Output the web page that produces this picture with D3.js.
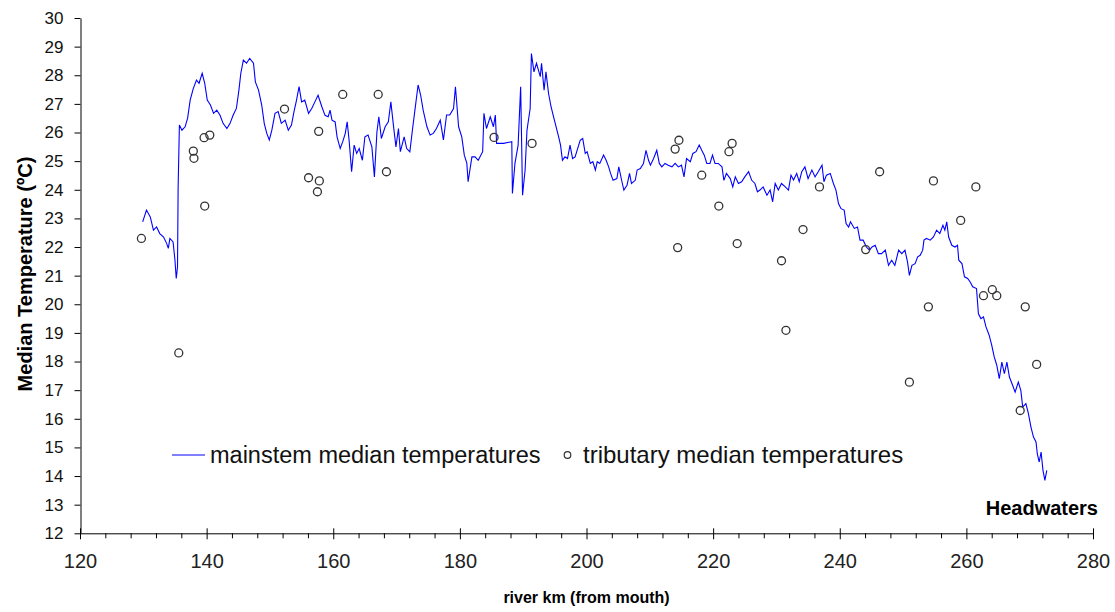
<!DOCTYPE html>
<html>
<head>
<meta charset="utf-8">
<script src="https://cdn.jsdelivr.net/npm/d3@7"></script>
<style>
  body { margin: 0; background: #fff; }
  svg { display: block; font-family: "Liberation Sans", Arial, sans-serif; }
</style>
</head>
<body>
<div id="wrapper"></div>
<script>
// mainstem median temperature, [river km, deg C]
const mainstem = [
  [129.9,22.88],[130.5,23.29],[131.1,23.05],[131.6,22.59],[132.1,22.70],[132.6,22.47],[133.2,22.35],[133.7,22.12],[133.95,21.95],[134.2,22.3],
  [134.7,22.18],[135.0,21.54],[135.2,20.9],[135.4,21.3],[135.5,24.1],[135.7,26.26],[136.1,26.08],[136.6,26.2],[137.0,26.5],[137.4,27.13],
  [137.9,27.54],[138.4,27.83],[138.8,27.72],[139.3,28.07],[139.7,27.72],[140.1,27.13],[140.6,26.96],[141.1,26.67],[141.6,26.78],[142.1,26.61],
  [142.6,26.32],[143.2,26.14],[143.7,26.32],[144.2,26.61],[144.7,26.84],[145.1,27.48],[145.4,28.07],[145.8,28.53],[146.3,28.42],[146.8,28.59],
  [147.4,28.42],[147.7,27.77],[148.2,27.48],[148.7,26.96],[149.1,26.32],[149.5,25.97],[149.9,25.74],[150.3,26.08],[150.8,26.67],[151.3,26.73],
  [151.8,26.32],[152.4,26.43],[152.9,26.08],[153.4,26.26],[153.8,26.73],[154.2,27.13],[154.6,27.6],[155.0,27.07],[155.5,27.13],[156.1,26.67],
  [156.6,26.84],[157.1,27.07],[157.6,27.3],[158.2,26.9],[158.7,26.6],[159.2,26.55],
  [159.5,26.78],[159.8,26.43],[160.3,26.37],[160.6,25.85],[161.1,25.44],[161.5,25.68],[161.9,25.97],[162.2,26.37],[162.5,25.74],[162.9,24.63],
  [163.3,25.56],[163.7,25.27],[164.1,25.44],[164.6,25.03],[165.0,25.85],[165.5,25.91],[166.1,25.5],[166.5,24.45],[166.9,26.02],[167.2,26.55],
  [167.6,25.79],[168.2,26.2],[168.7,26.37],[169.1,27.07],[169.5,26.26],[169.9,25.5],[170.3,26.14],[170.6,25.33],[171.2,25.85],[171.6,25.44],
  [172.1,25.33],[172.5,26.08],[172.9,26.78],[173.4,27.66],[173.8,27.31],[174.2,26.78],[174.8,26.2],[175.3,25.91],[175.8,25.97],[176.3,26.14],
  [176.9,26.43],[177.4,25.74],[177.9,26.61],[178.4,26.61],[179.0,26.84],[179.3,27.6],[179.8,26.2],[180.3,25.85],[180.7,25.21],[181.1,24.92],
  [181.3,24.28],[181.9,25.15],[182.4,25.15],[182.9,25.03],[183.6,25.33],[183.8,26.67],[184.2,26.14],[184.8,26.55],[185.3,26.2],[185.6,26.61],
  [185.8,25.62],[186.9,25.62],[188.2,25.68],[188.3,23.87],[188.7,24.92],[189.2,25.56],[189.6,27.6],[189.9,23.81],[190.3,24.69],[190.6,26.08],
  [191.1,26.84],[191.3,28.76],[191.7,28.12],[192.1,28.42],
  [192.7,27.95],[192.9,28.42],[193.3,27.48],[193.6,28.12],[194.0,27.37],[194.4,26.9],[194.8,26.55],[195.2,26.2],[195.6,25.85],[195.9,25.56],
  [196.2,25.03],[196.6,25.15],[197.0,25.09],[197.4,25.56],[197.8,25.09],[198.2,25.15],[198.6,25.44],[199.0,25.73],[199.4,25.79],[199.8,25.27],
  [200.1,25.33],[200.6,24.92],[201.0,24.98],[201.4,24.69],[201.7,24.98],[202.1,24.92],[202.7,25.21],[203.1,25.03],[203.5,24.8],[203.8,24.57],
  [204.2,24.33],[204.8,24.39],[205.1,24.8],[205.6,24.28],[205.9,23.99],[206.4,24.16],[206.8,24.57],[207.1,24.22],[207.7,24.33],[208.0,24.69],
  [208.5,24.74],[209.0,24.92],[209.4,25.38],[209.8,25.03],[210.1,24.86],[210.6,25.09],[211.1,25.38],[211.5,24.92],[211.9,24.8],[212.4,24.92],
  [212.9,24.86],[213.5,24.8],[214.0,24.92],[214.5,24.8],[215.0,24.86],[215.4,24.45],[215.8,25.09],[216.4,24.98],[216.8,25.27],[217.3,25.33],
  [217.8,25.56],[218.2,25.38],[218.6,25.21],[219.0,24.92],[219.5,24.92],[219.9,25.21],[220.3,24.92],[220.8,24.92],[221.4,24.8],[221.7,24.33],
  [222.1,24.57],[222.7,24.39],[223.1,24.1],[223.5,24.45],[224.0,24.22],[224.5,24.28],[225.0,24.45],[225.6,24.63],[226.1,24.33],[226.6,24.22],
  [227.0,23.93],
  [227.4,23.99],[227.9,24.1],[228.5,23.81],[229.0,23.99],[229.4,23.58],[229.8,24.22],[230.3,23.99],[230.8,24.22],[231.4,24.1],[231.9,23.99],
  [232.3,24.51],[232.7,24.34],[233.2,24.57],[233.6,24.28],[234.0,24.63],[234.5,24.8],[235.0,24.39],[235.6,24.69],[236.1,24.45],[236.6,24.63],
  [237.2,24.86],[237.5,24.28],[237.9,24.51],[238.5,24.57],[239.0,24.22],[239.4,23.99],[239.8,23.52],[240.2,23.34],[240.7,23.29],[241.0,22.82],
  [241.4,22.7],[241.7,22.88],[242.3,22.65],[242.8,22.7],[243.2,22.24],[243.7,22.24],[244.2,22.0],[244.7,21.89],[245.1,22.0],[245.6,22.06],
  [246.1,21.77],[246.6,21.77],[247.2,21.89],[247.7,21.36],[248.2,21.54],[248.7,21.36],[249.3,21.89],[249.8,21.77],[250.3,21.89],[250.7,21.48],
  [251.0,21.01],[251.4,21.36],[251.9,21.42],[252.3,21.66],[252.7,21.71],[253.1,21.89],[253.3,22.24],[253.7,22.3],[254.3,22.24],[254.8,22.35],
  [255.3,22.59],[255.8,22.47],[256.3,22.76],[256.6,22.59],[256.9,22.88],[257.2,22.35],[257.7,22.06],[258.2,22.0],[258.6,22.06],
  [258.8,21.54],[259.3,21.42],[259.7,20.96],[260.2,20.9],[260.6,20.78],[261.0,20.61],[261.6,20.55],[261.9,19.67],[262.3,19.5],[262.7,19.56],
  [263.1,19.21],[263.6,18.92],[264.0,18.57],[264.4,18.16],[264.8,17.87],[265.2,17.4],[265.6,17.98],[266.0,17.58],[266.4,17.98],[266.8,17.46],
  [267.3,17.17],[267.7,16.93],[268.2,17.28],[268.6,16.99],[268.9,16.41],[269.4,16.53],[269.8,16.18],[270.2,15.71],[270.6,15.36],[271.0,15.19],
  [271.2,14.78],[271.5,14.49],[271.8,14.84],[272.1,14.2],[272.4,13.85],[272.7,14.2]
];

// tributary median temperature, [river km, deg C]
const tributaries = [
  [129.7,22.3],[135.6,18.3],[137.9,25.35],[138.0,25.1],[139.7,23.43],[139.6,25.82],[140.5,25.91],[152.3,26.82],
  [156.1,24.42],[157.8,24.31],[157.5,23.93],[157.7,26.04],[161.5,27.33],[167.1,27.33],[168.4,24.63],[185.4,25.83],
  [191.4,25.62],[214.0,25.42],[214.6,25.73],[218.2,24.51],[220.9,23.43],[223.0,25.62],[222.5,25.33],[214.4,21.98],
  [223.8,22.12],[236.8,24.1],[234.2,22.61],[230.8,21.52],[231.5,19.09],[246.3,24.63],[254.8,24.31],[259.1,22.93],
  [244.1,21.91],[254.0,19.91],[251.0,17.28],[261.5,24.1],[264.1,20.51],[262.7,20.3],[264.8,20.3],[269.3,19.91],
  [271.1,17.9],[268.5,16.29]
];

const xDomain = [120, 280];
const yDomain = [12, 30];
const xMajorTicks = d3.range(120, 281, 20);
const xMinorTicks = d3.range(120, 281, 4).filter(v => v % 20 !== 0);
const yTicks = d3.range(12, 31, 1);
const legendLabels = ["mainstem median temperatures", "tributary median temperatures"];

const width = 1115, height = 612;
const margin = {top: 18, right: 22, bottom: 78.7, left: 80};

const svg = d3.select("#wrapper").append("svg")
    .attr("width", width)
    .attr("height", height);

const x = d3.scaleLinear().domain(xDomain).range([margin.left, width - margin.right]);
const y = d3.scaleLinear().domain(yDomain).range([height - margin.bottom, margin.top]);
const baseY = height - margin.bottom;

// y axis
const yAxis = svg.append("g")
    .attr("transform", `translate(${margin.left + 0.5},0)`)
    .call(d3.axisLeft(y).tickValues(yTicks).tickSize(6).tickSizeOuter(0).tickPadding(11));
yAxis.selectAll("text")
    .style("font-size", "17px")
    .style("fill", "#111");

// x axis minor ticks
svg.append("g")
    .attr("transform", `translate(0,${baseY})`)
    .call(d3.axisBottom(x).tickValues(xMinorTicks).tickSize(5).tickSizeOuter(0).tickFormat(""))
    .call(g => g.select(".domain").remove());

// x axis major ticks
const xAxis = svg.append("g")
    .attr("transform", `translate(0,${baseY})`)
    .call(d3.axisBottom(x).tickValues(xMajorTicks).tickSize(6).tickSizeOuter(0));
xAxis.selectAll(".tick line").attr("y1", -5);
xAxis.selectAll("text")
    .attr("y", 21)
    .style("font-size", "20px")
    .style("fill", "#222");

svg.selectAll(".domain, .tick line").attr("stroke", "#000");

// mainstem line
const line = d3.line()
    .x(d => x(d[0]))
    .y(d => y(d[1]));

svg.append("path")
    .datum(mainstem)
    .attr("fill", "none")
    .attr("stroke", "#0000ff")
    .attr("stroke-width", 1.1)
    .attr("d", line);

// tributary points
svg.append("g")
    .selectAll("circle")
    .data(tributaries)
    .join("circle")
    .attr("cx", d => x(d[0]))
    .attr("cy", d => y(d[1]))
    .attr("r", 4)
    .attr("fill", "none")
    .attr("stroke", "#333")
    .attr("stroke-width", 1.3);

// legend
const legend = svg.append("g");
legend.append("line")
    .attr("x1", 172).attr("x2", 205)
    .attr("y1", 455).attr("y2", 455)
    .attr("stroke", "#0000ff")
    .attr("stroke-width", 1);
legend.append("text")
    .attr("x", 210).attr("y", 463)
    .style("font-size", "23.5px")
    .style("fill", "#111")
    .text(legendLabels[0]);
legend.append("circle")
    .attr("cx", 567.5).attr("cy", 455)
    .attr("r", 3.3)
    .attr("fill", "none")
    .attr("stroke", "#333")
    .attr("stroke-width", 1.2);
legend.append("text")
    .attr("x", 583).attr("y", 463)
    .style("font-size", "24px")
    .style("fill", "#111")
    .text(legendLabels[1]);

// annotation
svg.append("text")
    .attr("x", 1098).attr("y", 515)
    .attr("text-anchor", "end")
    .style("font-size", "20px")
    .style("font-weight", "bold")
    .text("Headwaters");

// axis titles
svg.append("text")
    .attr("transform", "translate(31.5,274) rotate(-90)")
    .attr("text-anchor", "middle")
    .style("font-size", "20px")
    .style("font-weight", "bold")
    .text("Median Temperature (ºC)");

svg.append("text")
    .attr("x", (margin.left + width - margin.right) / 2)
    .attr("y", 603)
    .attr("text-anchor", "middle")
    .style("font-size", "16px")
    .style("font-weight", "bold")
    .text("river km (from mouth)");
</script>
</body>
</html>
